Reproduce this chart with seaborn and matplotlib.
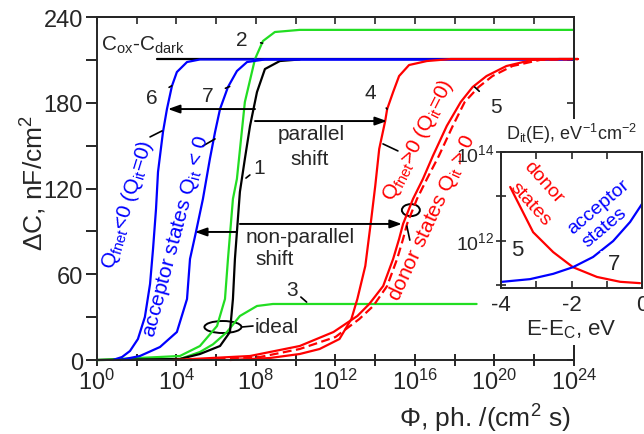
import numpy as np
import matplotlib
matplotlib.use("Agg")
import matplotlib.pyplot as plt
import seaborn as sns
from matplotlib.patches import Ellipse, Rectangle
from matplotlib.ticker import FixedLocator, NullLocator, NullFormatter

# curves: x = log10(flux), y = delta C (nF/cm^2)
c1_x = [0, 4.17, 5.18, 6.19, 6.69, 6.84, 6.94, 7.19, 7.44, 7.70, 8.05, 8.45, 9.2, 10.2]
c1_y = [0, 0.7, 4.2, 9.8, 19.6, 42.7, 70.7, 117.6, 140.7, 163.8, 187.5, 203.6, 209.2, 210.3]
cdark_x = [3.0, 24.0]
cdark_y = [210.3, 210.3]
c2_x = [0, 4.17, 5.18, 6.04, 6.44, 6.59, 6.84, 7.04, 7.44, 7.95, 8.35, 8.95, 10.2, 24.0]
c2_y = [0, 2.8, 9.8, 23.8, 42.7, 70.7, 112.7, 126.7, 180.5, 210.6, 223.2, 229.5, 231, 231]
c3_x = [0, 4.17, 5.18, 5.84, 6.54, 7.19, 8.05, 8.85, 19.1]
c3_y = [0, 0.7, 5.6, 11, 19.6, 30.8, 37.8, 39.2, 39.2]
c6_x = [0.8, 1.26, 1.66, 2.06, 2.41, 2.67, 2.82, 2.97, 3.07, 3.32, 3.52, 3.77, 4.02, 4.53, 5.18, 24.0]
c6_y = [0, 2.1, 6.3, 14.7, 30.1, 53.2, 77.7, 105.7, 131.6, 159.5, 175.6, 191.7, 201.5, 208.5, 210.3, 210.3]
c7_x = [1.16, 2.16, 3.17, 4.02, 4.53, 4.68, 4.98, 5.33, 5.68, 5.94, 6.19, 6.59, 7.04, 7.55, 8.45, 24.0]
c7_y = [0, 2.8, 9.1, 19.6, 42.7, 70.7, 89.6, 112.7, 140.7, 159.5, 175.6, 191.0, 202.2, 208.5, 210.3, 210.3]
c4_x = [6.69, 8.7, 10.2, 11.2, 12.2, 12.8, 13.1, 13.5, 13.8, 14.0, 14.2, 14.5, 14.6, 14.9, 15.2, 15.7, 16.6, 17.8, 24.2]
c4_y = [0, 1.4, 4.2, 7.7, 14.7, 28.7, 42.7, 65.8, 98.7, 121.8, 147.7, 167.2, 175.6, 187.5, 198.7, 206.4, 209.2, 210.6, 210.6]
c5_x = [3.82, 7.70, 10.2, 11.9, 13.1, 13.7, 14.4, 14.9, 15.2, 15.4, 15.9, 16.4, 16.9, 17.6, 18.3, 18.9, 19.6, 20.6, 21.9, 23.3, 24.2]
c5_y = [0, 2.8, 9.8, 19.6, 30.8, 39.2, 51.8, 70.7, 84.7, 95.2, 112.7, 126.7, 142.8, 163.8, 180.5, 191.0, 198.7, 205.7, 210, 210.6, 210.6]
c5d_x = [4.68, 8.2, 10.2, 12.0, 13.2, 13.9, 14.6, 15.1, 15.4, 15.6, 16.1, 16.6, 17.2, 17.9, 18.5, 19.2, 19.9, 20.9, 22.3, 24.2]
c5d_y = [0, 2.1, 7.7, 16.1, 28.7, 37.8, 51.8, 70.7, 84.7, 95.2, 112.7, 126.7, 142.8, 163.8, 180.5, 191.0, 198.7, 205.7, 210, 210.6]

# inset: E - Ec (eV), log10 Dit
donor_E = [-3.74, -3.09, -2.52, -1.96, -1.28, -0.62, -0.06]
donor_D = [13.21, 12.19, 11.74, 11.40, 11.18, 11.07, 11.04]
acc_E = [-3.97, -3.18, -2.52, -1.96, -1.39, -0.82, -0.34, 0.0]
acc_D = [11.07, 11.13, 11.25, 11.40, 11.63, 11.99, 12.42, 12.83]

x_major = [0, 4, 8, 12, 16, 20, 24]
y_ticks = [0, 60, 120, 180, 240]

BLUE = "#0000ff"
RED = "#ff0000"
GREEN = "#22dd22"

sns.set_style("ticks")
plt.rcParams["font.family"] = ["Liberation Sans", "DejaVu Sans"]
plt.rcParams["mathtext.default"] = "regular"
plt.rcParams["axes.linewidth"] = 1.4

fig = plt.figure(figsize=(6.44, 4.35), dpi=100)
ax = fig.add_axes([0.1506, 0.1701, 0.7407, 0.7885])

lw = 1.6
def curve(a, xs, ys, color, ls="-"):
    sns.lineplot(x=10.0 ** np.array(xs), y=ys, ax=a, color=color, linewidth=lw,
                 linestyle=ls, sort=False, estimator=None, clip_on=False)

curve(ax, cdark_x, cdark_y, "black")
curve(ax, c3_x, c3_y, GREEN)
curve(ax, c2_x, c2_y, GREEN)
curve(ax, c1_x, c1_y, "black")
curve(ax, c6_x, c6_y, BLUE)
curve(ax, c7_x, c7_y, BLUE)
curve(ax, c5d_x, c5d_y, RED, ls=(0, (4, 2)))
curve(ax, c5_x, c5_y, RED)
curve(ax, c4_x, c4_y, RED)

ax.set_xscale("log")
ax.set_xlim(1, 1e24)
ax.set_ylim(0, 240)
ax.xaxis.set_major_locator(FixedLocator(10.0 ** np.array(x_major)))
ax.xaxis.set_minor_locator(FixedLocator(10.0 ** (np.array(x_major[:-1]) + 2)))
ax.xaxis.set_minor_formatter(NullFormatter())
ax.set_xticklabels([f"$10^{{{e}}}$" for e in x_major])
ax.set_yticks(y_ticks)
ax.yaxis.set_minor_locator(FixedLocator(np.arange(30, 240, 60)))
ax.tick_params(axis="x", which="both", direction="inout", length=8, width=1.4,
               labelsize=17, pad=2)
ax.tick_params(axis="y", which="both", direction="out", length=8, width=1.4,
               labelsize=17, pad=2)
for s in ax.spines.values():
    s.set_visible(True)

top = ax.secondary_xaxis("top")
top.xaxis.set_major_locator(FixedLocator(10.0 ** np.arange(0, 25, 2)))
top.xaxis.set_minor_locator(NullLocator())
top.xaxis.set_minor_formatter(NullFormatter())
top.tick_params(direction="in", length=5, width=1.2, labeltop=False)
right = ax.secondary_yaxis("right")
right.set_yticks(np.arange(0, 241, 30))
right.tick_params(direction="in", length=5, width=1.2, labelright=False)

ax.set_ylabel("ΔC, nF/cm$^2$", fontsize=19, labelpad=4)
ax.yaxis.set_label_coords(-0.1, 0.52)
ax.set_xlabel("Φ, ph. /(cm$^2$ s)", fontsize=19)
ax.xaxis.set_label_coords(0.813, -0.122)

# labels on the main plot
fs = 15
ax.text(10 ** 0.2, 221, "C$_{ox}$-C$_{dark}$", fontsize=fs, ha="left", va="center")

numbers = [("1", (8.15, 134.5), (7.44, 126.7)),
           ("2", (7.3, 224.5), (8.4, 221.5)),
           ("3", (9.8, 49.6), (10.6, 39.9)),
           ("4", (13.75, 187.5), (14.6, 175.6)),
           ("5", (20.05, 177.5), (18.95, 191.7)),
           ("6", (2.75, 183.5), (3.82, 192.4)),
           ("7", (5.55, 185.0), (6.74, 191.7))]
for t, (tx, ty), (px, py) in numbers:
    ax.annotate(t, xy=(10 ** px, py), xytext=(10 ** tx, ty), fontsize=fs,
                ha="center", va="center",
                arrowprops=dict(arrowstyle="-", lw=1.2, color="black",
                                shrinkA=7, shrinkB=1))

leaders = [((2.67, 156.1), (3.27, 160.3)),
           ((5.33, 149.8), (5.94, 154.7)),
           ((14.39, 151.2), (15.14, 146.3)),
           ((15.59, 93.7), (15.74, 83.9)),
           ((7.29, 23.1), (7.85, 23.8))]
for (x0, y0), (x1, y1) in leaders:
    ax.annotate("", xy=(10 ** x1, y1), xytext=(10 ** x0, y0),
                arrowprops=dict(arrowstyle="-", lw=1.2, color="black",
                                shrinkA=0, shrinkB=0))

arrows = [((7.95, 175.6), (3.57, 175.6)),
          ((7.95, 167.2), (14.59, 167.2)),
          ((7.04, 89.6), (4.93, 89.6)),
          ((7.19, 95.2), (15.34, 95.2))]
for (x0, y0), (x1, y1) in arrows:
    ax.annotate("", xy=(10 ** x1, y1), xytext=(10 ** x0, y0),
                arrowprops=dict(arrowstyle="-|>,head_length=0.7,head_width=0.25",
                                lw=1.4, color="black", shrinkA=0, shrinkB=0))

ax.text(10 ** 10.8, 158.2, "parallel", fontsize=fs, ha="center", va="center")
ax.text(10 ** 10.7, 140.7, "shift", fontsize=fs, ha="center", va="center")
ax.text(10 ** 10.2, 86.1, "non-parallel", fontsize=fs, ha="center", va="center")
ax.text(10 ** 8.95, 70.7, "shift", fontsize=fs, ha="center", va="center")
ax.text(10 ** 7.95, 23.1, "ideal", fontsize=fs, ha="left", va="center")

ax.add_patch(Ellipse((0.264, 0.0962), 0.0776, 0.035, transform=ax.transAxes,
                     fill=False, lw=1.4, ec="black"))
ax.add_patch(Ellipse((0.658, 0.437), 0.0377, 0.035, transform=ax.transAxes,
                     fill=False, lw=1.4, ec="black"))

ax.text(10 ** 1.56, 109.2, "Q$_{fnet}$<0 (Q$_{it}$=0)", color=BLUE, fontsize=fs,
        rotation=73, ha="center", va="center", rotation_mode="anchor")
ax.text(10 ** 3.97, 86.8, "acceptor states Q$_{it}$ < 0", color=BLUE, fontsize=fs,
        rotation=75, ha="center", va="center", rotation_mode="anchor")
ax.text(10 ** 16.15, 154.7, "Q$_{fnet}$>0 (Q$_{it}$=0)", color=RED, fontsize=fs,
        rotation=63, ha="center", va="center", rotation_mode="anchor")
ax.text(10 ** 16.85, 100.1, "donor states Q$_{it}$ > 0", color=RED, fontsize=fs,
        rotation=65, ha="center", va="center", rotation_mode="anchor")

# white backing for the inset (hides the main right spine there)
fig.add_artist(Rectangle((0.86, 0.205), 0.14, 0.52, transform=fig.transFigure,
                         facecolor="white", edgecolor="none", zorder=0.5))

ins = fig.add_axes([0.778, 0.3356, 0.219, 0.3127], zorder=1)
sns.lineplot(x=donor_E, y=10.0 ** np.array(donor_D), ax=ins, color=RED,
             linewidth=lw, sort=False, estimator=None)
sns.lineplot(x=acc_E, y=10.0 ** np.array(acc_D), ax=ins, color=BLUE,
             linewidth=lw, sort=False, estimator=None)
ins.set_yscale("log")
ins.set_xlim(-4, 0)
ins.set_ylim(10 ** 10.93, 1e14)
ins.set_xticks([-4, -2, 0])
ins.set_xticklabels(["-4", "-2", "0"])
ins.xaxis.set_minor_locator(FixedLocator([-3, -1]))
ins.yaxis.set_major_locator(FixedLocator([1e11, 1e12, 1e13, 1e14]))
ins.set_yticklabels(["", "$10^{12}$", "", "$10^{14}$"])
ins.yaxis.set_minor_locator(NullLocator())
ins.yaxis.set_minor_formatter(NullFormatter())
ins.tick_params(axis="x", which="both", direction="in", length=5, width=1.2,
                top=True, labelsize=16, pad=4)
ins.tick_params(axis="y", direction="inout", length=7, width=1.2, labelsize=14, pad=1)
for s in ins.spines.values():
    s.set_visible(True)
    s.set_linewidth(1.4)
ins.set_xlabel("E-E$_C$, eV", fontsize=16, labelpad=2)
ins.set_ylabel("")
ins.set_title("D$_{it}$(E), eV$^{-1}$cm$^{-2}$", fontsize=13, pad=9)

ins.text(-2.81, 10 ** 13.32, "donor", color=RED, fontsize=14, rotation=-48,
         ha="center", va="center", rotation_mode="anchor")
ins.text(-3.18, 10 ** 12.83, "states", color=RED, fontsize=14, rotation=-48,
         ha="center", va="center", rotation_mode="anchor")
ins.text(-1.25, 10 ** 12.78, "acceptor", color=BLUE, fontsize=14, rotation=40,
         ha="center", va="center", rotation_mode="anchor")
ins.text(-1.05, 10 ** 12.31, "states", color=BLUE, fontsize=14, rotation=40,
         ha="center", va="center", rotation_mode="anchor")
ins.annotate("5", xy=(-3.09, 10 ** 12.10), xytext=(-3.55, 10 ** 11.81), fontsize=16,
             ha="center", va="center",
             arrowprops=dict(arrowstyle="-", lw=1.2, shrinkA=7, shrinkB=1))
ins.annotate("7", xy=(-1.19, 10 ** 11.77), xytext=(-0.79, 10 ** 11.49), fontsize=16,
             ha="center", va="center",
             arrowprops=dict(arrowstyle="-", lw=1.2, shrinkA=7, shrinkB=1))

fig.savefig("out.png", dpi=100)
